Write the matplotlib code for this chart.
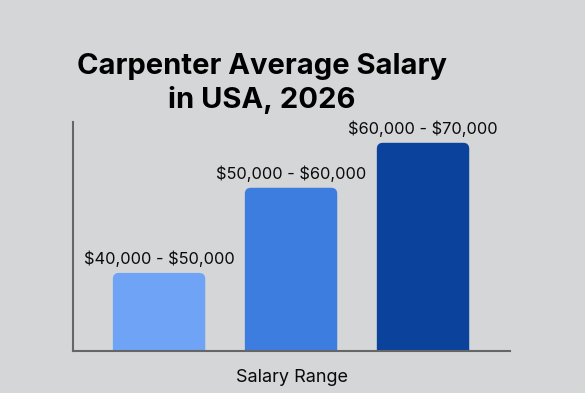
import matplotlib.pyplot as plt
from matplotlib.patches import FancyBboxPatch

# data (relative bar heights)
categories = ["$40,000 - $50,000", "$50,000 - $60,000", "$60,000 - $70,000"]
heights = [37.5, 78.4, 100]
colors = ["#6fa3f5", "#3d7de0", "#0a429c"]

plt.rcParams['font.family'] = ['Inter', 'DejaVu Sans']
plt.rcParams['text.parse_math'] = False
bg = "#d5d6d7"

fig = plt.figure(figsize=(5.85, 3.93), dpi=100, facecolor=bg)
ax = fig.add_axes([0.1248, 0.1069, 0.747, 0.5827], facecolor=bg)

x = list(range(len(categories)))
width = 0.7
ax.set_xlim(-0.652, 2.659)
ax.set_ylim(0, 110)

# px per data unit, used to keep corner rounding circular
fig.canvas.draw()
bb = ax.get_window_extent()
px_x = bb.width / (2.659 + 0.652)
px_y = bb.height / 110
r_px = 6
rx = r_px / px_x
aspect = (r_px / px_y) / rx

for xi, h, c, lab in zip(x, heights, colors, categories):
    patch = FancyBboxPatch((xi - width / 2, -10), width, h + 10,
                           boxstyle=f"round,pad=0,rounding_size={rx}",
                           mutation_aspect=aspect, facecolor=c,
                           edgecolor="none", clip_on=True)
    ax.add_patch(patch)
    ax.text(xi, h + 3, lab, ha="center", va="bottom", fontsize=11.8, color="#0a0a0a")

for s in ["top", "right"]:
    ax.spines[s].set_visible(False)
for s in ["left", "bottom"]:
    ax.spines[s].set_color("#666666")
    ax.spines[s].set_linewidth(1.5)
ax.set_xticks([])
ax.set_yticks([])
ax.set_xlabel("Salary Range", fontsize=13, labelpad=13, color="#0a0a0a")

fig.text(262 / 585, 0.787, "Carpenter Average Salary\nin USA, 2026", ha="center",
         va="center", fontsize=21, fontweight="bold", linespacing=1.25)

fig.savefig("out.png", dpi=100, facecolor=bg)
